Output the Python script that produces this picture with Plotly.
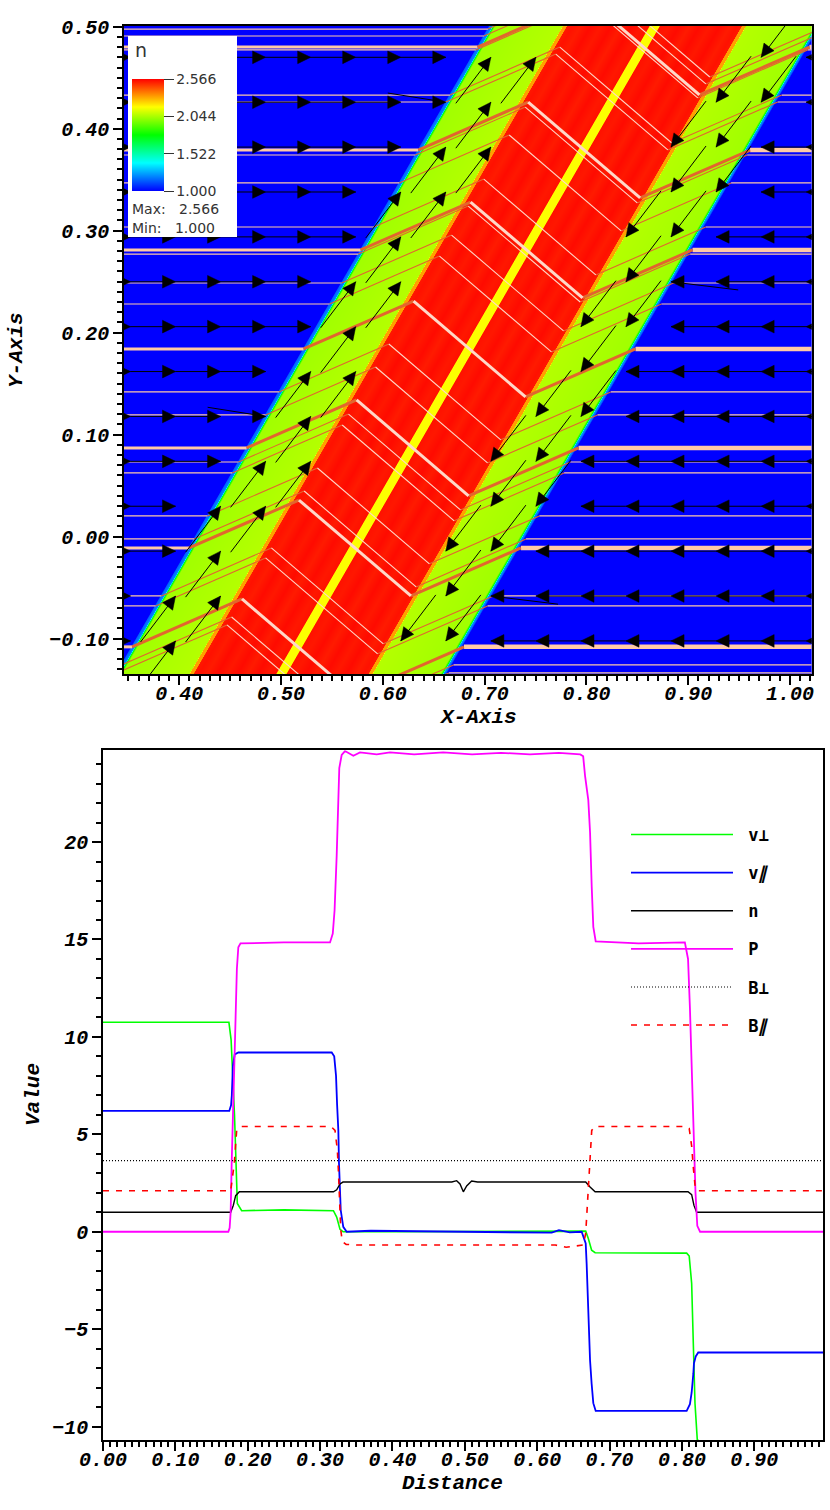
import numpy as np
import plotly.graph_objects as go

W, H = 830, 1510

# ---- density profile across the shock band (coordinate u = x - TAN30*y) ----
TAN30 = 0.577
profile_u = [0.30, 0.4145, 0.4155, 0.417, 0.4185, 0.4195, 0.4205, 0.4215, 0.4875, 0.488, 0.4915, 0.492, 0.497,
             0.505, 0.515, 0.525, 0.535, 0.545, 0.555, 0.565, 0.5725, 0.5735, 0.5825, 0.5835,
             0.592, 0.602, 0.612, 0.622, 0.632, 0.642, 0.652, 0.659, 0.6635, 0.664, 0.6675, 0.668,
             0.7345, 0.7355, 0.7365, 0.7375, 0.739, 0.7405, 1.0]
profile_n = [1.0, 1.0, 1.15, 1.18, 1.22, 1.75, 1.9, 2.03, 2.06, 2.32, 2.32, 2.53, 2.54,
             2.525, 2.55, 2.53, 2.55, 2.525, 2.55, 2.53, 2.54, 2.17, 2.17, 2.54,
             2.53, 2.55, 2.525, 2.55, 2.53, 2.55, 2.525, 2.54, 2.53, 2.32, 2.32, 2.06,
             2.03, 1.9, 1.75, 1.22, 1.18, 1.0, 1.0]
cb_ticks = [1.0, 1.522, 2.044, 2.566]
cb_labels = ["1.000", "1.522", "2.044", "2.566"]

# ---- magnetic field lines: y where each line crosses the upstream region ----
line_y_thin = [0.4977, 0.4909, 0.4772, 0.4330, 0.4262, 0.3742, 0.3468, 0.3036, 0.2771, 0.2487,
               0.2281, 0.1419, 0.1193, 0.0732, 0.0625, 0.0203, -0.0023, -0.0581, -0.0679,
               -0.1258, -0.1336]
line_y_thick = [0.4801, 0.3791, 0.2811, 0.1840, 0.0870, -0.0111, -0.1081]

# ---- line-out curves ----
vperp_d = [0.0, 0.174, 0.177, 0.18, 0.1817, 0.1824, 0.184, 0.1856, 0.1916, 0.25, 0.3184, 0.3229, 0.3275, 0.3316,
           0.40, 0.50, 0.60, 0.667, 0.6706, 0.6752, 0.68, 0.74, 0.8065, 0.81, 0.8134, 0.8157, 0.818, 0.8212, 0.825, 0.995]
vperp_v = [10.75, 10.75, 9.85, 7.8, 6.0, 5.2, 2.5, 1.45, 1.08, 1.12, 1.08, 0.75, 0.12, 0.0,
           0.0, 0.02, 0.03, 0.03, -0.35, -0.95, -1.08, -1.1, -1.1, -1.25, -2.65, -5.75, -8.8, -10.69, -10.75, -10.75]

vpar_d = [0.0, 0.1745, 0.177, 0.178, 0.1795, 0.182, 0.187, 0.25, 0.316, 0.3195, 0.322, 0.3235, 0.3252, 0.3261,
          0.3285, 0.332, 0.3367, 0.37, 0.50, 0.62, 0.63, 0.645, 0.6614, 0.667, 0.6683, 0.6706, 0.673, 0.6752, 0.6775,
          0.6808, 0.74, 0.8065, 0.811, 0.8134, 0.8157, 0.8166, 0.819, 0.8225, 0.995]
vpar_v = [6.2, 6.2, 6.5, 7.0, 8.5, 9.1, 9.2, 9.2, 9.2, 9.0, 8.0, 6.5, 5.2, 3.5,
          1.1, 0.25, 0.0, 0.05, 0.0, -0.05, 0.08, -0.03, 0.0, -0.6, -1.65, -4.4, -6.6, -7.8, -8.8,
          -9.2, -9.2, -9.2, -8.85, -8.25, -7.3, -6.75, -6.4, -6.2, -6.2]

n_d = [0.0, 0.1764, 0.18, 0.1833, 0.1884, 0.25, 0.3184, 0.3229, 0.3275, 0.3316, 0.42, 0.482, 0.4887, 0.4933, 0.4979, 0.5025,
       0.5094, 0.5175, 0.60, 0.667, 0.673, 0.68, 0.74, 0.8084, 0.8134, 0.8166, 0.8203, 0.995]
n_v = [1.0, 1.0, 1.35, 1.85, 2.05, 2.05, 2.05, 2.15, 2.45, 2.55, 2.55, 2.55, 2.62, 2.45, 2.05, 2.35,
       2.6, 2.55, 2.55, 2.55, 2.3, 2.05, 2.05, 2.05, 1.9, 1.35, 1.0, 1.0]

p_d = [0.0, 0.1732, 0.175, 0.1764, 0.1778, 0.18, 0.1825, 0.185, 0.187, 0.19, 0.25, 0.3137, 0.3175, 0.32, 0.3217,
       0.3229, 0.3265, 0.3298, 0.3344, 0.3459, 0.3551, 0.3782, 0.3966, 0.43, 0.47, 0.51, 0.55, 0.59, 0.63, 0.6595,
       0.6635, 0.6661, 0.6706, 0.673, 0.6753, 0.6775, 0.6808, 0.74, 0.804, 0.8084, 0.811, 0.8157, 0.8187, 0.8212, 0.825, 0.995]
p_v = [0.0, 0.0, 0.2, 1.0, 3.5, 6.0, 10.0, 13.5, 14.6, 14.8, 14.85, 14.85, 15.3, 16.5, 18.0,
       19.3, 23.8, 24.47, 24.67, 24.43, 24.6, 24.5, 24.6, 24.5, 24.6, 24.5, 24.58, 24.5, 24.58, 24.5,
       24.4, 23.4, 22.15, 20.5, 17.7, 15.65, 14.9, 14.8, 14.85, 14.0, 11.5, 5.2, 2.0, 0.3, 0.0, 0.0]

bperp_d = [0.0, 0.995]
bperp_v = [3.65, 3.65]

bpar_d = [0.0, 0.1764, 0.1814, 0.1847, 0.1905, 0.25, 0.315, 0.3206, 0.3238, 0.3252, 0.3265, 0.3285, 0.3307, 0.336, 0.35,
          0.50, 0.625, 0.64, 0.6637, 0.667, 0.6683, 0.6697, 0.6706, 0.672, 0.6739, 0.6753, 0.68, 0.74, 0.805, 0.81, 0.8134,
          0.8157, 0.818, 0.8212, 0.995]
bpar_v = [2.1, 2.1, 3.5, 5.2, 5.4, 5.4, 5.4, 5.2, 4.2, 3.2, 1.45, 0.1, -0.5, -0.65, -0.68,
          -0.68, -0.68, -0.8, -0.68, -0.08, 0.75, 1.45, 2.3, 3.3, 4.0, 5.2, 5.4, 5.4, 5.4, 5.3, 4.4,
          3.3, 2.4, 2.1, 2.1]

# ---- axis windows ----
X1_RANGE = [0.3457, 1.0213]
Y1_RANGE = [-0.1347, 0.5007]
X2_RANGE = [0.0, 0.9953]
Y2_RANGE = [-10.69, 24.71]

fig = go.Figure()

# ---- density field ----
gx = np.linspace(X1_RANGE[0], X1_RANGE[1], 688)
gy = np.linspace(Y1_RANGE[0], Y1_RANGE[1], 648)
GX, GY = np.meshgrid(gx, gy)
Z = np.interp(GX - TAN30 * GY, profile_u, profile_n).astype("float32")
colors = [[0, "#0000ff"], [0.25, "#00ffff"], [0.5, "#00ff00"], [0.75, "#ffff00"], [1, "#ff0000"]]
fig.add_trace(go.Heatmap(
    x=gx, y=gy, z=Z, zmin=1.0, zmax=2.566, zsmooth=False, colorscale=colors, xaxis="x", yaxis="y",
    hoverinfo="skip", showlegend=False,
    colorbar=dict(x=132 / W, xanchor="left", xpad=0, y=1 - 79 / H, yanchor="top", ypad=0,
                  lenmode="pixels", len=112, thicknessmode="pixels", thickness=32, outlinewidth=0,
                  tickmode="array", tickvals=cb_ticks, ticktext=cb_labels, ticks="outside", ticklen=10,
                  tickcolor="#333333", tickfont=dict(family="DejaVu Sans", size=14, color="#333333")),
))

# ---- field lines ----
U_A, DX_UP, DY_UP, DX_DN = 0.416, 0.108, 0.047, 0.110


def segments(ys):
    left, up1, down, up2, right = ([], []), ([], []), ([], []), ([], []), ([], [])
    for y0 in ys:
        xa = U_A + TAN30 * y0
        xb, yb = xa + DX_UP, y0 + DY_UP
        xc, yc = xb + DX_DN, yb - 2 * DY_UP
        xd = xc + DX_UP
        for part, px, py in ((left, [X1_RANGE[0], xa], [y0, y0]), (up1, [xa, xb], [y0, yb]),
                             (down, [xb, xc], [yb, yc]), (up2, [xc, xd], [yc, y0]),
                             (right, [xd, X1_RANGE[1]], [y0, y0])):
            part[0].extend(px + [None])
            part[1].extend(py + [None])
    return left, up1, down, up2, right


def add_lines(ys, w_left, w_right, w_green, w_red):
    left, up1, down, up2, right = segments(ys)
    for (sx, sy), col, w in ((left, "#ffc9a6", w_left), (right, "#ffc9a6", w_right), (up1, "#e2662e", w_green),
                             (up2, "#e2662e", w_green), (down, "#ffd8c8", w_red)):
        fig.add_trace(go.Scatter(x=sx, y=sy, mode="lines", line=dict(color=col, width=w), xaxis="x", yaxis="y",
                                 hoverinfo="skip", showlegend=False))


add_lines(line_y_thin, 1.2, 1.2, 1.1, 1.1)
add_lines(line_y_thick, 3, 4.5, 3, 3)

# ---- velocity glyphs, heads on a regular grid ----
GRID_X0, GRID_DX, GRID_Y0, GRID_DY = 0.3521, 0.04425, 0.4700, -0.04402
NCOL, NROW = 16, 14
SHAFT_E = (0.0442, 0.0)
SHAFT_UP = (0.0344, 0.0451)
TURN_LEFT = [(7, 1), (3, 8)]
TURN_RIGHT = [(12, 5), (8, 12)]
HEAD_LEN, HEAD_HALF = 0.0128, 0.0062
sx, sy, hx, hy = [], [], [], []
for j in range(NROW):
    for k in range(NCOL):
        tx = GRID_X0 + k * GRID_DX
        ty = GRID_Y0 + j * GRID_DY
        u = tx - TAN30 * ty
        if (k, j) in TURN_LEFT:
            back = (0.057, -0.009)
        elif (k, j) in TURN_RIGHT:
            back = (-0.066, 0.008)
        elif u < 0.4158:
            back = SHAFT_E
        elif u < 0.492:
            back = SHAFT_UP
        elif u < 0.66:
            continue
        elif u < 0.7405:
            back = (-SHAFT_UP[0], -SHAFT_UP[1])
        else:
            back = (-SHAFT_E[0], 0.0)
        sx += [tx - back[0], tx, None]
        sy += [ty - back[1], ty, None]
        # head direction: the straight-run direction for turning glyphs
        d = np.array(back if (k, j) not in TURN_LEFT + TURN_RIGHT else (np.sign(back[0]), 0.0), dtype=float)
        d /= np.hypot(*d)
        n = np.array([-d[1], d[0]])
        b = np.array([tx, ty]) - HEAD_LEN * d
        hx += [tx, b[0] + HEAD_HALF * n[0], b[0] - HEAD_HALF * n[0], tx, None]
        hy += [ty, b[1] + HEAD_HALF * n[1], b[1] - HEAD_HALF * n[1], ty, None]

fig.add_trace(go.Scatter(x=sx, y=sy, mode="lines", line=dict(color="black", width=1), xaxis="x", yaxis="y",
                         hoverinfo="skip", showlegend=False))
fig.add_trace(go.Scatter(x=hx, y=hy, mode="lines", fill="toself", fillcolor="black", line=dict(color="black", width=0.5),
                         xaxis="x", yaxis="y", hoverinfo="skip", showlegend=False))

# ---- line-out ----
curves = [
    ("\u00a0v⊥", vperp_d, vperp_v, dict(color="#00ff00", width=1.6)),
    ("\u00a0v<i>∥</i>", vpar_d, vpar_v, dict(color="#0000ff", width=1.8)),
    ("\u00a0n", n_d, n_v, dict(color="black", width=1.4)),
    ("\u00a0P", p_d, p_v, dict(color="#ff00ff", width=1.8)),
    ("\u00a0B⊥", bperp_d, bperp_v, dict(color="black", width=1.1, dash="1px,2px")),
    ("\u00a0B<i>∥</i>", bpar_d, bpar_v, dict(color="#ff0000", width=1.6, dash="6px,7px")),
]
for i, (name, d, v, ln) in enumerate(curves):
    fig.add_trace(go.Scatter(x=d, y=v, mode="lines", name=name, line=ln, xaxis="x2", yaxis="y2",
                             legendgroup=f"g{i}", hoverinfo="skip"))

TICKFONT = dict(family="Liberation Mono", size=20, weight=700, style="italic", color="black")
TITLEFONT = dict(family="Liberation Mono", size=21, weight=700, style="italic", color="black")


def axis(domain, rng, dtick, minor, anchor, fmt, standoff=0):
    return dict(domain=domain, range=rng, anchor=anchor, dtick=dtick, tick0=0, tickformat=fmt, ticks="outside",
                ticklen=9, tickwidth=1.5, tickcolor="black", showline=True, linecolor="black", linewidth=1.5,
                mirror=True, showgrid=False, zeroline=False, tickfont=TICKFONT, ticklabelstandoff=standoff,
                minor=dict(dtick=minor, tick0=0, ticks="outside", ticklen=5, tickwidth=1.5, tickcolor="black", showgrid=False))


def px_x(a, b):
    return [a / W, b / W]


def px_y(top, bottom):
    return [1 - bottom / H, 1 - top / H]


def axis_label(text, x, y, angle=0):
    return dict(text=text, xref="paper", yref="paper", x=x / W, y=1 - y / H, xanchor="center", yanchor="middle",
                textangle=angle, showarrow=False, font=TITLEFONT)


LEGEND_TEXT = dict(family="DejaVu Sans", size=14, color="#333333")

fig.update_layout(
    width=W, height=H, margin=dict(l=0, r=0, t=0, b=0, autoexpand=False), paper_bgcolor="white", plot_bgcolor="white",
    xaxis=axis(px_x(124, 811.7), X1_RANGE, 0.1, 0.01, "y", ".2f", -9),
    yaxis=axis(px_y(26, 674), Y1_RANGE, 0.1, 0.01, "x", ".2f"),
    xaxis2=axis(px_x(103, 823.3), X2_RANGE, 0.1, 0.01, "y2", ".2f", -9),
    yaxis2=axis(px_y(750.3, 1440), Y2_RANGE, 5, 1, "x2", "d"),
    legend=dict(x=626 / W, xanchor="left", y=1 - 817 / H, yanchor="top", bgcolor="rgba(0,0,0,0)", itemwidth=102,
                tracegroupgap=13, traceorder="grouped", itemclick=False,
                font=dict(family="DejaVu Sans Mono", size=17, weight=700, color="black")),
    shapes=[dict(type="rect", xref="paper", yref="paper", x0=128 / W, x1=237 / W, y0=1 - 237 / H, y1=1 - 36 / H,
                 fillcolor="white", line=dict(width=0), layer="above")],
    annotations=[
        axis_label("X-Axis", 478, 717),
        axis_label("Y-Axis", 17, 350, -90),
        axis_label("Distance", 452, 1483),
        axis_label("Value", 33, 1095, -90),
        dict(text="n", xref="paper", yref="paper", x=133 / W, y=1 - 50 / H, xanchor="left", yanchor="middle",
             showarrow=False, font=dict(family="DejaVu Sans", size=19, color="#333333")),
        dict(text="Max:\u00a0\u00a0\u00a02.566", xref="paper", yref="paper", x=130 / W, y=1 - 209 / H, xanchor="left",
             yanchor="middle", showarrow=False, font=LEGEND_TEXT),
        dict(text="Min:\u00a0\u00a0\u00a01.000", xref="paper", yref="paper", x=130 / W, y=1 - 228 / H, xanchor="left",
             yanchor="middle", showarrow=False, font=LEGEND_TEXT),
    ],
)

fig.write_html("out.html", config={"displayModeBar": False},
               post_script="document.body.style.margin='0';")
